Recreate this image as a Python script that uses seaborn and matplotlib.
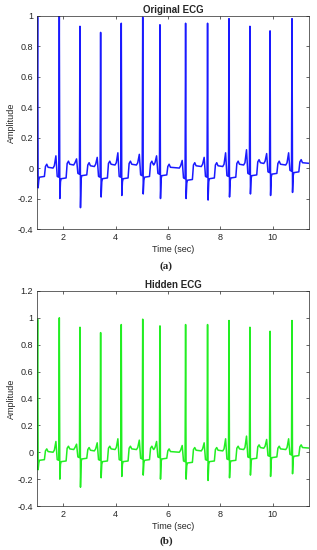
import numpy as np
import matplotlib
matplotlib.use('Agg')
import matplotlib.pyplot as plt
from matplotlib.ticker import FuncFormatter
import seaborn as sns

# R 峰时刻 (sec) 与各波形特征幅值
beat_times = [1.01, 1.84, 2.63, 3.42, 4.21, 5.03, 5.69, 6.67, 7.51, 8.33, 9.13, 9.90, 10.74]
r_peaks = [0.99, 1.00, 0.93, 0.89, 0.95, 0.99, 0.94, 0.95, 0.95, 0.98, 0.93, 0.90, 0.98]
s_troughs = [-0.13, -0.20, -0.26, -0.19, -0.18, -0.17, -0.20, -0.20, -0.21, -0.19, -0.17, -0.18, -0.16]
st_levels = [-0.06, -0.07, -0.05, -0.07, -0.07, -0.06, -0.05, -0.08, -0.07, -0.065, -0.05, -0.04, -0.03]
t_levels = [0.01, 0.03, 0.02, 0.03, 0.03, 0.03, 0.01, 0.02, 0.02, 0.03, 0.04, 0.03, 0.04]
# R 峰前的尖峰 (第 2 个心拍起)
p_peaks = [0.08, 0.06, 0.07, 0.10, 0.09, 0.08, 0.05, 0.07, 0.10, 0.12, 0.095, 0.10]

y_ticks_a = [-0.4, -0.2, 0, 0.2, 0.4, 0.6, 0.8, 1]
y_ticks_b = [-0.4, -0.2, 0, 0.2, 0.4, 0.6, 0.8, 1, 1.2]
x_ticks = [2, 4, 6, 8, 10]


def ecg_knots():
    t, v = [0.98], [-0.05]
    for i, R in enumerate(beat_times):
        if i > 0:
            tp = t_levels[i - 1]
            p = p_peaks[i - 1]
            t += [R - 0.24, R - 0.19, R - 0.13, R - 0.08, R - 0.02]
            v += [tp - 0.01, tp + 0.005, p, st_levels[i] + 0.015, st_levels[i] + 0.01]
        st = st_levels[i]
        tl = t_levels[i]
        t += [R, R + 0.02, R + 0.045, R + 0.07, R + 0.26, R + 0.30, R + 0.35, R + 0.40]
        v += [r_peaks[i], s_troughs[i], st - 0.02, st, st + 0.005, tl, tl + 0.015, tl - 0.005]
    t += [11.45]
    v += [0.03]
    return np.array(t), np.array(v)


sns.set_theme(style='ticks')
plt.rcParams['font.family'] = ['Liberation Sans', 'DejaVu Sans']
plt.rcParams['axes.edgecolor'] = '#262626'
plt.rcParams['axes.linewidth'] = 0.5
plt.rcParams['xtick.color'] = '#262626'
plt.rcParams['ytick.color'] = '#262626'

time, amp = ecg_knots()

fig = plt.figure(figsize=(3.17, 5.5), dpi=100)
ax1 = fig.add_axes([0.1178, 0.5836, 0.857, 0.388])
ax2 = fig.add_axes([0.1178, 0.080, 0.857, 0.391])

fmt = FuncFormatter(lambda val, pos: f'{val:g}')

panels = [
    (ax1, '#1a1aff', 'Original ECG', (-0.4, 1.0), y_ticks_a, '(a)', 0.516),
    (ax2, '#22ee22', 'Hidden ECG', (-0.4, 1.2), y_ticks_b, '(b)', 0.016),
]

for ax, color, title, ylim, yticks, tag, tag_y in panels:
    sns.lineplot(x=time, y=amp, ax=ax, color=color, linewidth=1.1, sort=False, estimator=None)
    ax.set_xlim(1.0, 11.39)
    ax.set_ylim(*ylim)
    ax.set_xticks(x_ticks)
    ax.set_yticks(yticks)
    ax.yaxis.set_major_formatter(fmt)
    ax.tick_params(direction='in', length=2.5, width=0.5, labelsize=6.5,
                   top=True, right=True, pad=3)
    for s in ax.spines.values():
        s.set_visible(True)
    ax.set_title(title, fontsize=7, fontweight='bold', pad=2)
    ax.set_xlabel('Time (sec)', fontsize=6.5, labelpad=2)
    ax.set_ylabel('Amplitude', fontsize=6.5)
    ax.yaxis.set_label_coords(-0.08, 0.5)
    fig.text(0.524, tag_y, tag, ha='center', va='center', fontsize=8,
             fontweight='bold', family=['Liberation Serif', 'DejaVu Serif'])

fig.savefig('out.png', dpi=100)
